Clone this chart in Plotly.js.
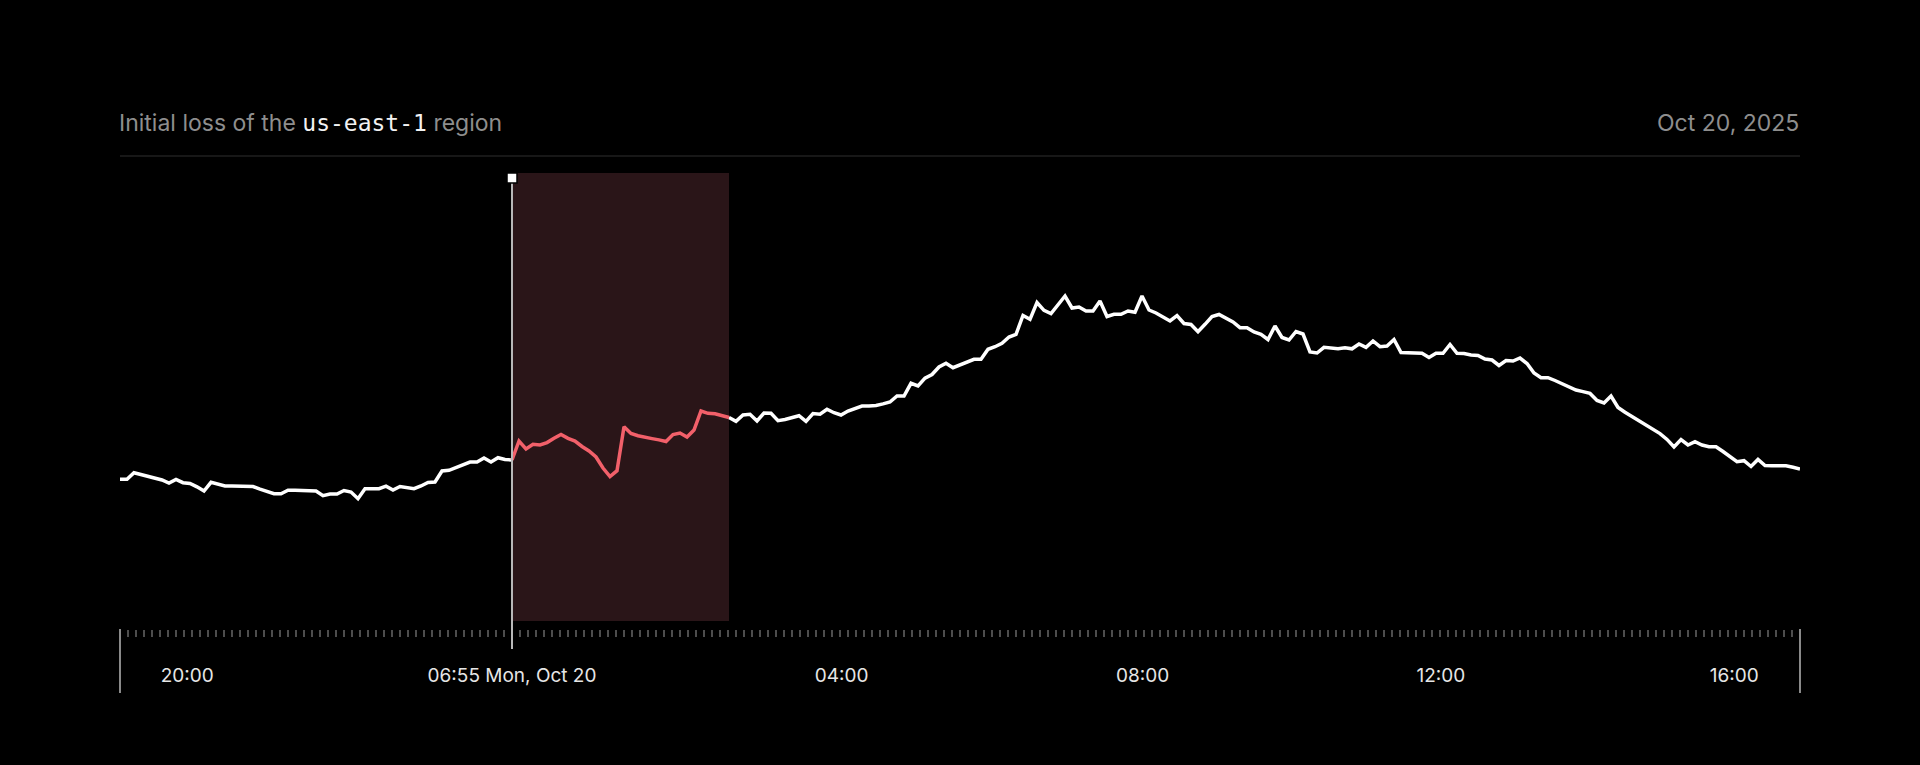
<!DOCTYPE html>
<html>
<head>
<meta charset="utf-8">
<script src="https://cdn.plot.ly/plotly-3.0.1.min.js"></script>
<style>
  html, body { margin: 0; padding: 0; background: #000; }
  #chart { width: 1920px; height: 765px; }
</style>
</head>
<body>
<div id="chart"></div>
<script>
// ---- data (sample index, relative traffic) ----
const traffic = [
  149.7,149.7,156.3,154.5,153.2,151.4,149,146,149.5,146.3,
  145.5,142.2,138,146.7,145,143,143,143,143,142.5,
  139.9,137.4,135.3,135.3,138.7,138.7,138.7,138.7,138,133.3,
  135,135,138.5,137,130.3,140.3,140.3,140.3,142.8,139,
  142.5,141.6,140.3,143,146.5,147,158,158.7,161.3,164.3,
  167,167,171,167,171.3,169.5,169,188,180,184.7,
  184,186.4,190.7,194.5,190.6,188,182.5,178,172,161,
  152.5,158.3,202.3,195.5,193.3,191.4,190.4,189.1,187.5,194.5,
  196,192,199,218,215.7,215.2,213,211.5,207.7,214,
  214.7,208,216,215.7,208.3,209.5,211.3,213.3,207.7,215.5,
  214.8,219.7,216.3,214,218,220.9,223,223,223.6,225.1,
  227,233,233,245.7,243,250.8,254.5,262,265.7,261.3,
  264.2,267.5,269.7,269.7,279.7,282.3,285.7,292,294.7,313.5,
  309.7,326.5,318.7,315.5,324,333,321,322,318,318,
  328,312.5,314.7,314.7,318,316.7,333,319,316,312,
  308,313.3,305.5,304.5,297.3,304.7,312.5,314.5,310.8,307,
  301.3,301.3,297,294.7,289.5,303,291.5,289,297.5,295,
  277,276,281.7,281,280.2,281.3,280.2,285,281.7,288,
  282.3,283,289.5,276.5,276,275.7,275.7,271.5,275.7,275.7,
  284.5,275.7,275.5,274,273.6,270,269,263.5,268.5,268,
  271,265.5,256,251.3,251.3,248.5,245.5,242,239,237.4,
  235.6,228.5,226,233,221.5,216.8,212.7,208.5,204.2,199.8,
  195.4,189.6,182,189.5,184,187.3,184,182.3,182.3,177.5,
  172.2,167.3,168.3,162.5,169.5,163.5,163.3,163.3,163.3,161.7,
  160
];
const sampleIndex = traffic.map((_, i) => i);

// incident window (sample indices)
const incidentStart = [56];
const incidentEnd = [87];

// axis labels
const tickPositions = [9.6, 56, 103.1, 146.1, 188.7, 230.6];
const tickLabels = ['20:00', '06:55 Mon, Oct 20', '04:00', '08:00', '12:00', '16:00'];

const titleText = 'Initial loss of the <span style="font-family:\'DejaVu Sans Mono\', monospace;color:#f2f2f2;font-size:23px">us-east-1</span> region';
const dateText = 'Oct 20, 2025';

// ---- build ----
const s0 = incidentStart[0], s1 = incidentEnd[0];
const normalY = traffic.map((v, i) => (i > s0 && i < s1) ? null : v);
const incidentY = traffic.map((v, i) => (i >= s0 && i <= s1) ? v : null);

const plotTop = 173, plotBottom = 629;
const py = px => (plotBottom - px) / (plotBottom - plotTop);

const traces = [
  { x: sampleIndex, y: normalY, type: 'scatter', mode: 'lines',
    line: { color: '#ffffff', width: 3.5 }, connectgaps: false, hoverinfo: 'skip' },
  { x: sampleIndex, y: incidentY, type: 'scatter', mode: 'lines',
    line: { color: '#f2606a', width: 3.5 }, connectgaps: false, hoverinfo: 'skip' }
];

const layout = {
  width: 1920, height: 765,
  paper_bgcolor: '#000', plot_bgcolor: '#000',
  margin: { l: 120, r: 120, t: plotTop, b: 765 - plotBottom, pad: 0 },
  showlegend: false,
  font: { family: 'Inter, "Noto Sans", sans-serif', color: '#e6e6e6' },
  xaxis: {
    range: [0, traffic.length - 1], fixedrange: true,
    showgrid: false, zeroline: false, showline: false,
    tickmode: 'array', tickvals: tickPositions, ticktext: tickLabels,
    ticks: '', ticklabelstandoff: 33,
    tickfont: { family: 'Inter, sans-serif', size: 19, color: '#e6e6e6' },
    minor: { ticks: 'outside', ticklen: 7, tickwidth: 2, tickcolor: '#4d4d4d',
             tickmode: 'linear', tick0: 0, dtick: 8 / 7, showgrid: false }
  },
  yaxis: {
    range: [0, plotBottom - plotTop], fixedrange: true, visible: false,
    showgrid: false, zeroline: false
  },
  shapes: [
    { type: 'line', xref: 'paper', yref: 'paper', x0: 0, x1: 1, y0: py(156), y1: py(156),
      line: { color: '#2f2f2f', width: 1 } },
    { type: 'rect', xref: 'x', yref: 'paper', x0: s0, x1: s1, y0: py(621), y1: py(173),
      fillcolor: '#2a1518', line: { width: 0 }, layer: 'below' },
    { type: 'line', xref: 'x', yref: 'paper', x0: s0, x1: s0, y0: py(649), y1: py(178),
      line: { color: '#b8b8b8', width: 2 } },
    { type: 'line', xref: 'paper', yref: 'paper', x0: 0, x1: 0, y0: py(629), y1: py(693),
      line: { color: '#8a8a8a', width: 2 } },
    { type: 'line', xref: 'paper', yref: 'paper', x0: 1, x1: 1, y0: py(629), y1: py(693),
      line: { color: '#8a8a8a', width: 2 } },
    { type: 'rect', xref: 'x', yref: 'paper', xsizemode: 'pixel', ysizemode: 'pixel',
      xanchor: s0, yanchor: py(178), x0: -5, x1: 5, y0: -5, y1: 5,
      fillcolor: '#ffffff', line: { color: '#000', width: 1.5 } }
  ],
  annotations: [
    { xref: 'paper', yref: 'paper', x: 0, y: py(123), xanchor: 'left', yanchor: 'middle',
      xshift: -3, text: titleText, showarrow: false,
      font: { family: 'Inter, sans-serif', size: 23, color: '#8e8e8e' } },
    { xref: 'paper', yref: 'paper', x: 1, y: py(123), xanchor: 'right', yanchor: 'middle',
      xshift: 1, text: dateText, showarrow: false,
      font: { family: 'Inter, sans-serif', size: 23, color: '#8e8e8e' } }
  ]
};

Plotly.newPlot('chart', traces, layout, { displayModeBar: false, staticPlot: true });
</script>
</body>
</html>
